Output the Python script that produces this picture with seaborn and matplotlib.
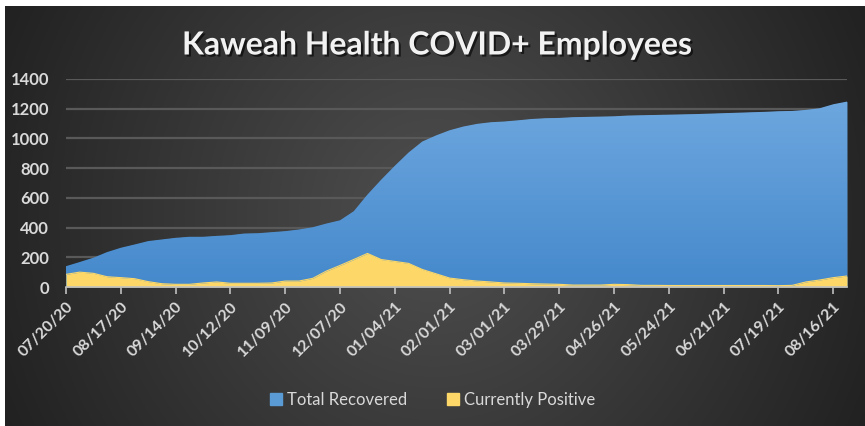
import numpy as np
import pandas as pd
import matplotlib
matplotlib.use('Agg')
import matplotlib.pyplot as plt
import matplotlib.dates as mdates
import matplotlib.patheffects as pe
import seaborn as sns

# weekly values, 07/20/20 .. 08/23/21
weeks = pd.date_range('2020-07-20', periods=58, freq='7D')
total_recovered = [140, 168, 197, 235, 264, 286, 309, 320, 331, 338,
                   338, 344, 349, 360, 362, 369, 376, 387, 402, 427,
                   449, 510, 622, 722, 816, 905, 979, 1020, 1055, 1080,
                   1098, 1109, 1114, 1122, 1131, 1136, 1138, 1143, 1145, 1147,
                   1149, 1154, 1156, 1158, 1160, 1162, 1164, 1167, 1170, 1173,
                   1176, 1179, 1183, 1185, 1192, 1203, 1230, 1248]
currently_positive = [85, 100, 92, 69, 63, 56, 36, 22, 18, 18,
                      27, 34, 25, 25, 25, 27, 40, 40, 58, 107,
                      145, 185, 226, 185, 172, 159, 118, 89, 60, 49,
                      40, 34, 27, 25, 22, 20, 18, 13, 13, 13,
                      18, 16, 11, 11, 10, 10, 10, 10, 10, 10,
                      10, 10, 9, 11, 34, 47, 63, 74]
series_names = ['Total Recovered', 'Currently Positive']
series_colors = ['#5b9bd5', '#fdd868']

df = pd.DataFrame({'week': weeks,
                   series_names[0]: total_recovered,
                   series_names[1]: currently_positive})

sns.set_style('dark')
plt.rcParams['font.family'] = ['Lato', 'DejaVu Sans']

W, H = 865, 426
fig = plt.figure(figsize=(W / 100, H / 100), dpi=100)
fig.patch.set_facecolor('white')

# dark gradient panel behind everything
bg = fig.add_axes([5 / W, 0, 1 - 5 / W, 1 - 6 / H], zorder=0)
gx = np.linspace(-1, 1, 400)
gy = np.linspace(-1, 1, 200)
X, Y = np.meshgrid(gx, gy)
r = np.sqrt((X * 0.95) ** 2 + (Y * 0.45) ** 2)
shade = np.clip(0.31 - 0.17 * r, 0.13, 0.31)
bg.imshow(np.dstack([shade] * 3), aspect='auto', extent=[0, 1, 0, 1])
bg.set_axis_off()

ax = fig.add_axes([66 / W, 1 - 287 / H, 781 / W, 208 / H], zorder=1)
ax.patch.set_alpha(0)

x = mdates.date2num(df['week'])
ax.set_xlim(x[0], x[-1])
ax.set_ylim(0, 1400)

for yv in range(200, 1401, 200):
    ax.axhline(yv, color='#595959', lw=1.6, zorder=1)

# blue area with a light vertical gradient
blue = ax.fill_between(x, 0, df[series_names[0]], color=series_colors[0], lw=0, zorder=2)
grad = np.linspace(0, 1, 256).reshape(-1, 1)
cmap = matplotlib.colors.LinearSegmentedColormap.from_list('b', ['#4589cc', '#6ea7df'])
im = ax.imshow(grad, cmap=cmap, aspect='auto', origin='lower',
               extent=[x[0], x[-1], 0, 1260], zorder=2.1)
im.set_clip_path(blue.get_paths()[0], transform=ax.transData)

ax.fill_between(x, 0, df[series_names[1]], color=series_colors[1], lw=0, zorder=3)
sns.lineplot(x=x, y=df[series_names[1]], ax=ax, color=series_colors[1], lw=0.8, zorder=3)

ax.set_xlim(x[0], x[-1])
ax.set_ylim(0, 1400)
ax.grid(False)
for s in ['top', 'right', 'left']:
    ax.spines[s].set_visible(False)
ax.spines['bottom'].set_color('#bfbfbf')
ax.spines['bottom'].set_linewidth(1.2)
ax.spines['bottom'].set_zorder(5)

ticks = x[::4]
ax.set_xticks(ticks)
ax.set_xticklabels([d.strftime('%m/%d/%y') for d in df['week'][::4]],
                   rotation=45, ha='right', rotation_mode='anchor',
                   fontsize=11.5, fontweight='bold', color='#d9d9d9')
ax.tick_params(axis='x', length=5, width=1.2, color='#bfbfbf', pad=4, direction='out', bottom=True)
ax.set_yticks(range(0, 1401, 200))
ax.set_yticklabels([str(v) for v in range(0, 1401, 200)],
                   fontsize=12, fontweight='bold', color='#d9d9d9')
ax.tick_params(axis='y', length=0, pad=12)
ax.set_xlabel('')
ax.set_ylabel('')

fig.text(0.5 + 5 / W, 1 - 45 / H, 'Kaweah Health COVID+ Employees', ha='center', va='center',
         fontsize=23, color='#f2f2f2', fontweight='bold', zorder=3,
         path_effects=[pe.withSimplePatchShadow(offset=(1.5, -1.5), shadow_rgbFace='black', alpha=0.6)])

handles = [plt.Rectangle((0, 0), 1, 1, color=c) for c in series_colors]
fig.legend(handles, series_names, loc='center', bbox_to_anchor=(0.5, 1 - 400 / H),
           ncol=2, frameon=False, fontsize=12, labelcolor='#d9d9d9',
           handlelength=0.7, handleheight=0.7, handletextpad=0.3, columnspacing=2.4)

fig.savefig('out.png', dpi=100)
